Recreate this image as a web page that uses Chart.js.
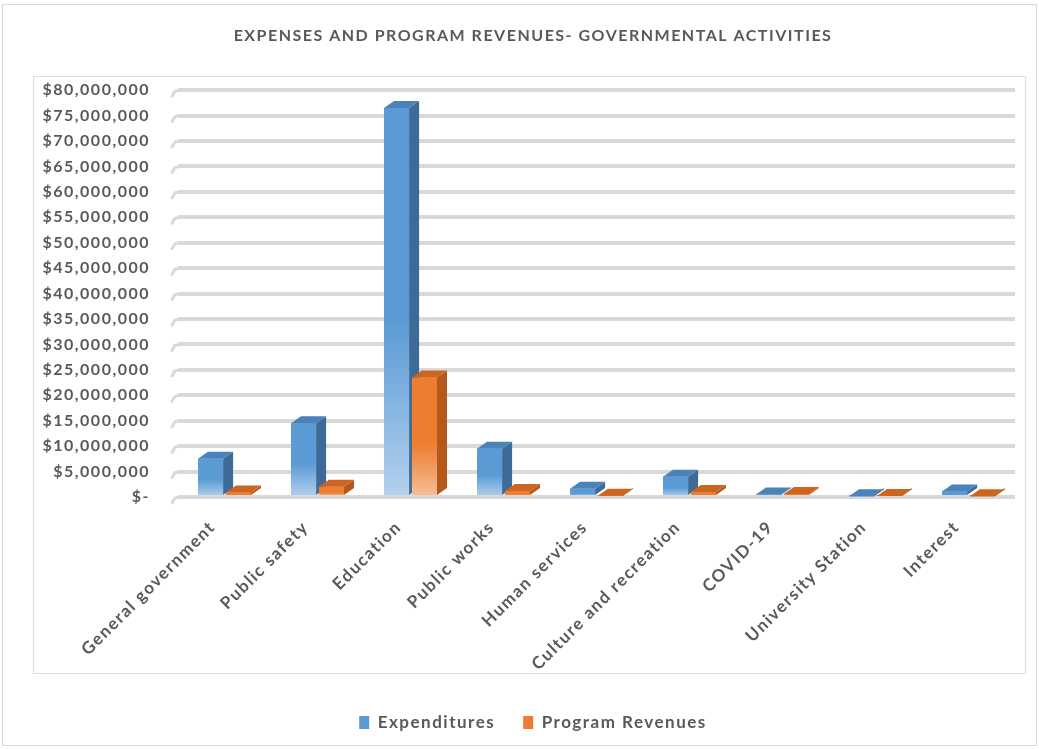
<!DOCTYPE html>
<html>
<head>
<meta charset="utf-8">
<script src="https://cdn.jsdelivr.net/npm/chart.js@4.4.1/dist/chart.umd.min.js"></script>
<style>
  html, body { margin: 0; padding: 0; background: #ffffff; }
  #wrap { width: 1039px; height: 749px; position: relative; }
</style>
</head>
<body>
<div id="wrap"><canvas id="c" width="1039" height="749"></canvas></div>
<script>
// Governmental activities: expenses vs. program revenues by function
const categories = [
  'General government', 'Public safety', 'Education', 'Public works',
  'Human services', 'Culture and recreation', 'COVID-19',
  'University Station', 'Interest'
];
const expenditures = [7500000, 14500000, 76500000, 9500000, 1600000, 4000000, 500000, 150000, 1100000];
const programRevenues = [900000, 2000000, 23500000, 1200000, 250000, 1000000, 600000, 200000, 150000];
const tickValues = [0, 5000000, 10000000, 15000000, 20000000, 25000000, 30000000, 35000000, 40000000,
  45000000, 50000000, 55000000, 60000000, 65000000, 70000000, 75000000, 80000000];

const TEXT = '#595959';
const FONT = 'Lato, "Open Sans", sans-serif';
const SPACING = '1.5px';

const palette = {
  blue:   { front: '#5b9bd5', light: '#b4d1ee', top: '#4a82ba', side: '#3d6a96' },
  orange: { front: '#ed7d31', light: '#f6bf99', top: '#cc6520', side: '#b4581c' }
};

function money(v) {
  if (v === 0) return '$-';
  return '$' + v.toLocaleString('en-US');
}

// Front face fades toward the floor
function frontFill(p) {
  return function (c) {
    const chart = c.chart;
    const area = chart.chartArea;
    if (!area || c.raw === undefined) return p.front;
    const ys = chart.scales.y;
    const top = ys.getPixelForValue(c.raw);
    const base = ys.getPixelForValue(0);
    if (base - top < 1) return p.front;
    const g = chart.ctx.createLinearGradient(0, top, 0, base);
    g.addColorStop(0, p.front);
    g.addColorStop(0.55, p.front);
    g.addColorStop(1, p.light);
    return g;
  };
}

// Depth of the extruded columns
const DEPTH_X = 10;
const DEPTH_Y = 7;

function drawFaces(ctx, bar, p) {
  const props = bar.getProps(['x', 'y', 'base', 'width'], true);
  const l = props.x - props.width / 2;
  const r = props.x + props.width / 2;
  const t = props.y;
  const b = props.base;
  ctx.fillStyle = p.side;
  ctx.beginPath();
  ctx.moveTo(r, t);
  ctx.lineTo(r + DEPTH_X, t - DEPTH_Y);
  ctx.lineTo(r + DEPTH_X, b - DEPTH_Y);
  ctx.lineTo(r, b);
  ctx.closePath();
  ctx.fill();
  ctx.fillStyle = p.top;
  ctx.beginPath();
  ctx.moveTo(l, t);
  ctx.lineTo(l + DEPTH_X, t - DEPTH_Y);
  ctx.lineTo(r + DEPTH_X, t - DEPTH_Y);
  ctx.lineTo(r, t);
  ctx.closePath();
  ctx.fill();
}

// Columns are repainted series by series so each one sits in front of the previous
const extrude = {
  id: 'extrude',
  afterDatasetsDraw(chart) {
    const ctx = chart.ctx;
    chart.data.datasets.forEach(function (ds, i) {
      const meta = chart.getDatasetMeta(i);
      meta.data.forEach(function (bar) {
        ctx.save();
        bar.draw(ctx, chart.chartArea);
        ctx.restore();
        ctx.save();
        drawFaces(ctx, bar, ds._faces);
        ctx.restore();
      });
    });
  }
};

// Wider tracking for all chart text; the value axis labels may run past the left padding
const tracking = {
  id: 'tracking',
  beforeLayout(chart) { chart.ctx.letterSpacing = SPACING; },
  afterLayout(chart) { chart.scales.y.left = 0; },
  beforeDraw(chart) { chart.ctx.letterSpacing = SPACING; }
};

// Frame, plot border and side-wall gridline stubs
const frame = {
  id: 'frame',
  beforeDraw(chart) {
    const ctx = chart.ctx;
    ctx.save();
    ctx.fillStyle = '#ffffff';
    ctx.fillRect(0, 0, chart.width, chart.height);
    ctx.strokeStyle = '#d9d9d9';
    ctx.lineWidth = 1;
    ctx.strokeRect(2.5, 4.5, chart.width - 5, chart.height - 8);
    ctx.strokeStyle = '#cfe0f3';
    ctx.strokeRect(33.5, 76.5, 992, 597);
    ctx.restore();
  },
  beforeDatasetsDraw(chart) {
    const ctx = chart.ctx;
    const ys = chart.scales.y;
    const left = chart.chartArea.left;
    ctx.save();
    ctx.strokeStyle = '#d9d9d9';
    ctx.lineWidth = 3;
    ctx.lineCap = 'round';
    tickValues.forEach(function (v) {
      const y = ys.getPixelForValue(v);
      ctx.beginPath();
      ctx.moveTo(left - 6, y + 6);
      ctx.lineTo(left - 3, y + 1);
      ctx.lineTo(left + 2, y);
      ctx.stroke();
    });
    ctx.restore();
  }
};

new Chart(document.getElementById('c'), {
  type: 'bar',
  data: {
    labels: categories,
    datasets: [
      {
        label: 'Expenditures',
        data: expenditures,
        backgroundColor: frontFill(palette.blue),
        _faces: palette.blue,
        borderWidth: 0,
        categoryPercentage: 0.6,
        barPercentage: 0.9
      },
      {
        label: 'Program Revenues',
        data: programRevenues,
        backgroundColor: frontFill(palette.orange),
        _faces: palette.orange,
        borderWidth: 0,
        categoryPercentage: 0.6,
        barPercentage: 0.9
      }
    ]
  },
  options: {
    responsive: false,
    animation: false,
    layout: { padding: { left: 51, right: 24, top: 0, bottom: 8 } },
    plugins: {
      title: {
        display: true,
        text: 'EXPENSES AND PROGRAM REVENUES- GOVERNMENTAL ACTIVITIES',
        color: TEXT,
        font: { family: FONT, size: 16, weight: 'bold' },
        padding: { top: 26, bottom: 45 }
      },
      legend: {
        display: true,
        position: 'bottom',
        labels: {
          color: TEXT,
          font: { family: FONT, size: 17, weight: 'bold' },
          boxWidth: 10,
          boxHeight: 13,
          padding: 28,
          generateLabels: function (chart) {
            return chart.data.datasets.map(function (ds, i) {
              return {
                text: ds.label,
                fillStyle: ds._faces.front,
                strokeStyle: ds._faces.front,
                lineWidth: 0,
                fontColor: TEXT,
                hidden: false,
                datasetIndex: i
              };
            });
          }
        }
      },
      tooltip: { enabled: false }
    },
    scales: {
      x: {
        grid: { display: false, drawTicks: false },
        border: { display: false },
        ticks: {
          color: TEXT,
          font: { family: FONT, size: 17, weight: 'bold' },
          maxRotation: 45,
          minRotation: 45,
          padding: 20,
          labelOffset: -12,
          autoSkip: false
        },
        afterFit: function (s) { s.height = 189; }
      },
      y: {
        min: 0,
        max: 80000000,
        grid: { color: '#d9d9d9', lineWidth: 4, drawTicks: false },
        border: { display: false },
        afterBuildTicks: function (s) { s.ticks = tickValues.map(function (v) { return { value: v }; }); },
        ticks: {
          color: TEXT,
          font: { family: FONT, size: 16, weight: 'bold' },
          padding: 28,
          callback: function (v) { return money(v); }
        },
        afterFit: function (s) { s.width = 127; }
      }
    }
  },
  plugins: [tracking, frame, extrude]
});
</script>
</body>
</html>
